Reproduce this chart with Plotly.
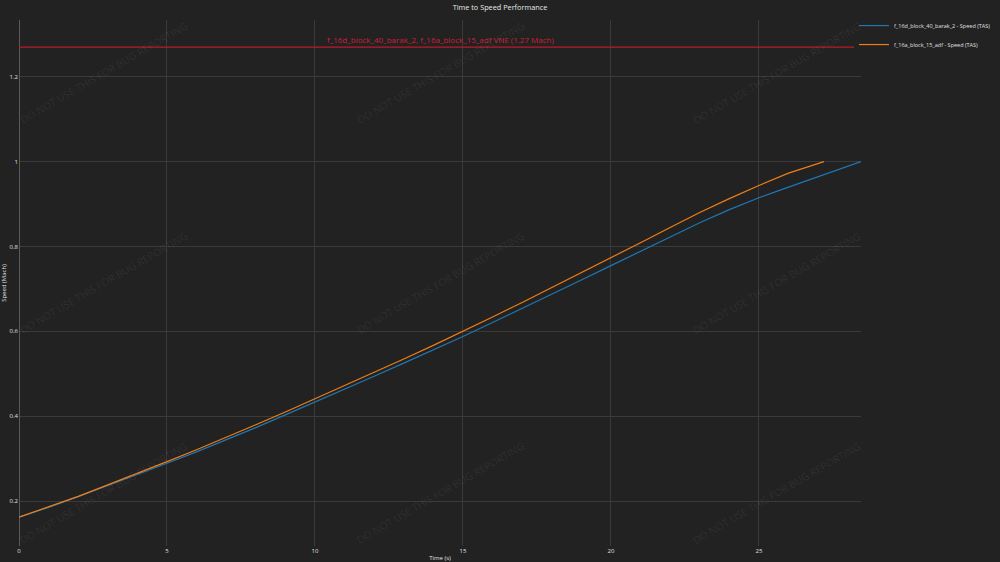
import plotly.graph_objects as go

# time (s) and speed (Mach)
t_barak = [0, 1, 2, 3, 4, 5, 6, 7, 8, 9, 10, 11, 12, 13, 14, 15, 16, 17, 18, 19,
           20, 21, 22, 23, 24, 25, 26, 27, 28, 28.45]
v_barak = [0.162, 0.185, 0.210, 0.236, 0.262, 0.289, 0.316, 0.344, 0.373, 0.403,
           0.433, 0.463, 0.494, 0.525, 0.556, 0.588, 0.621, 0.654, 0.687, 0.721,
           0.755, 0.789, 0.823, 0.856, 0.887, 0.915, 0.940, 0.965, 0.990, 1.0]

t_adf = [0, 1, 2, 3, 4, 5, 6, 7, 8, 9, 10, 11, 12, 13, 14, 15, 16, 17, 18, 19,
         20, 21, 22, 23, 24, 25, 26, 27, 27.2]
v_adf = [0.162, 0.186, 0.211, 0.238, 0.265, 0.293, 0.321, 0.350, 0.380, 0.410,
         0.441, 0.472, 0.503, 0.535, 0.567, 0.600, 0.634, 0.668, 0.703, 0.738,
         0.773, 0.809, 0.845, 0.880, 0.913, 0.944, 0.973, 0.996, 1.0]

vne = 1.27
vne_label = "f_16d_block_40_barak_2, f_16a_block_15_adf VNE (1.27 Mach)"
watermark = "DO NOT USE THIS FOR BUG REPORTING"

fig = go.Figure()
fig.add_trace(go.Scatter(x=t_barak, y=v_barak, mode="lines",
                         name="f_16d_block_40_barak_2 - Speed (TAS)",
                         line=dict(color="#1f77b4", width=1.2)))
fig.add_trace(go.Scatter(x=t_adf, y=v_adf, mode="lines",
                         name="f_16a_block_15_adf - Speed (TAS)",
                         line=dict(color="#f07d14", width=1.2)))

fig.add_hline(y=vne, line=dict(color="#b81d2c", width=1.4),
              annotation_text=vne_label, annotation_position="top",
              annotation_font=dict(color="#cc2038", size=8))

# watermark grid
for wx in [0.1, 0.5, 0.9]:
    for wy in [0.1, 0.5, 0.9]:
        fig.add_annotation(x=wx, y=wy, xref="paper", yref="paper", text=watermark,
                           xanchor="center", yanchor="middle",
                           showarrow=False, textangle=-30,
                           font=dict(size=10.3, color="rgba(255,255,255,0.08)"))

fig.update_layout(
    title=dict(text="Time to Speed Performance", x=0.5, xref="container",
               y=0.987, yref="container", yanchor="middle",
               font=dict(size=7.3, color="#e8e8e8")),
    width=1000, height=562,
    paper_bgcolor="#222222", plot_bgcolor="#222222",
    font=dict(family="Open Sans", size=6, color="#e0e0e0"),
    margin=dict(l=19, r=139, t=20, b=16, autoexpand=False),
    legend=dict(font=dict(size=5.5), x=0.9917, y=1.017, yanchor="top", itemwidth=30),
    showlegend=True,
)
fig.update_xaxes(title=dict(text="Time (s)", font=dict(size=6), standoff=1),
                 range=[0, 28.45], gridcolor="#3a3a3a", zeroline=True,
                 zerolinecolor="#5a5a5a", zerolinewidth=1, showline=False,
                 automargin=False, ticks="", tickfont=dict(size=6))
fig.update_yaxes(title=dict(text="Speed (Mach)", font=dict(size=6), standoff=2),
                 range=[0.094, 1.334], gridcolor="#3a3a3a", zeroline=False,
                 dtick=0.2, automargin=False, ticks="", tickfont=dict(size=6))

fig.write_html("out.html", config={"displayModeBar": False},
               post_script="document.body.style.margin='0';"
                           "document.body.style.background='#222222';")
